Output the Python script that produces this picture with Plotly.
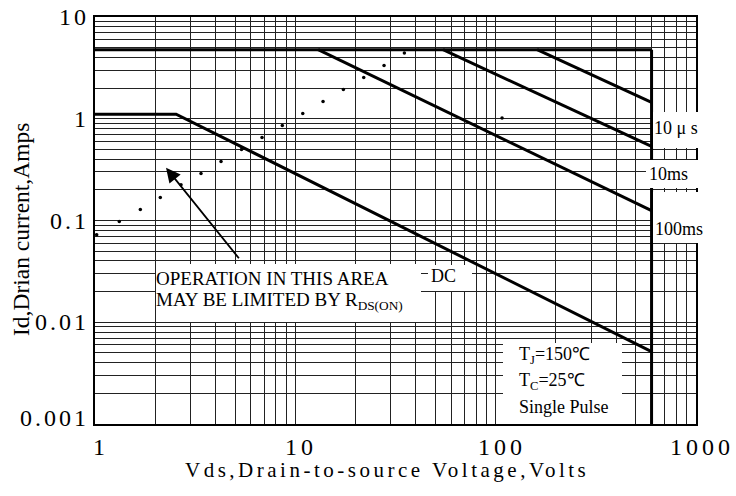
import math
import plotly.graph_objects as go

# ---------------- data ----------------
vds_max = 600.0          # V, drain-source voltage limit
id_max = 4.77            # A, pulsed current limit

dc_v = [1.0, 2.54, 600.0]
dc_i = [1.11, 1.11, 0.00515]

p100ms_v = [13.0, 600.0]
p100ms_i = [4.77, 0.125]

p10ms_v = [54.6, 600.0]
p10ms_i = [4.77, 0.534]

p10us_v = [161.0, 600.0]
p10us_i = [4.77, 1.45]

rds_v = [1.02, 1.322, 1.684, 2.118, 2.688, 3.382, 4.257, 5.388, 6.82, 8.61,
         10.89, 13.75, 17.37, 21.95, 27.72, 35.02, 107.6]
rds_i = [0.0724, 0.0977, 0.1283, 0.1683, 0.2244, 0.2899, 0.3803, 0.498, 0.6548,
         0.859, 1.127, 1.48, 1.942, 2.548, 3.343, 4.426, 1.016]

arrow_tail = (5.30, 0.0411)
arrow_head = (2.262, 0.33)

x_major = [1, 10, 100, 1000]
x_major_text = ["1", "10", "100", "1000"]
y_major = [0.001, 0.01, 0.1, 1, 10]
y_major_text = ["0.001", "0.01", "0.1", "1", "10"]

SERIF = "Liberation Serif, Times New Roman, serif"


def log_grid(lo_exp, hi_exp):
    vals = []
    for e in range(lo_exp, hi_exp):
        for m in range(1, 10):
            vals.append(m * 10 ** e)
    vals.append(10 ** hi_exp)
    return vals


xvals = log_grid(0, 3)
yvals = log_grid(-3, 1)

fig = go.Figure()
line_style = dict(color="black", width=3)

# limit lines
fig.add_trace(go.Scatter(x=[1, vds_max], y=[id_max, id_max], mode="lines", line=line_style))
fig.add_trace(go.Scatter(x=[vds_max, vds_max], y=[id_max, 0.001], mode="lines", line=line_style))
for xs, ys in [(dc_v, dc_i), (p100ms_v, p100ms_i), (p10ms_v, p10ms_i), (p10us_v, p10us_i)]:
    fig.add_trace(go.Scatter(x=xs, y=ys, mode="lines", line=line_style))
fig.add_trace(go.Scatter(x=rds_v, y=rds_i, mode="markers",
                         marker=dict(color="black", size=3.5)))


# paper coordinates from page pixels (plot area spans x 95..696, y 17..424)
def px(xp):
    return (xp - 95) / 601.0


def py(yp):
    return (424 - yp) / 407.0


def box(x0, x1, y0, y1):
    fig.add_shape(type="rect", xref="paper", yref="paper",
                  x0=px(x0), x1=px(x1), y0=py(y1), y1=py(y0),
                  fillcolor="white", line=dict(width=0), layer="above")


box(156, 421, 264, 322)
box(428, 472, 265, 291)
box(503, 622, 343, 424)
box(653, 700, 112, 148)
box(646, 700, 160, 188)
box(653, 705, 192, 243)


def label(text, x, y, anchor="center", size=18):
    fig.add_annotation(xref="paper", yref="paper", x=px(x), y=py(y), text=text,
                       showarrow=False, xanchor=anchor, yanchor="middle",
                       borderpad=0,
                       font=dict(family=SERIF, size=size, color="black"))


label("OPERATION IN THIS AREA", 155, 278, "left", 19)
label("MAY BE LIMITED BY R<sub>DS(ON)</sub>", 155, 301, "left", 19)
label("DC", 443, 276)
label("10 μ s", 676, 128)
label("10ms", 668, 174)
label("100ms", 679, 229)
label("T<sub>J</sub>=150℃", 518, 355, "left")
label("T<sub>C</sub>=25℃", 518, 381, "left")
label("Single Pulse", 518, 407, "left")

# arrow
fig.add_annotation(xref="x", yref="y", axref="x", ayref="y",
                   x=math.log10(arrow_head[0]), y=math.log10(arrow_head[1]),
                   ax=math.log10(arrow_tail[0]), ay=math.log10(arrow_tail[1]),
                   text="", showarrow=True, arrowhead=2, arrowsize=1.6,
                   arrowwidth=1.8, arrowcolor="black")

# tick labels (letter-spaced, placed on the axes' own scale)
tick_font = dict(family=SERIF, size=24, color="black")
for v, t in zip(x_major, x_major_text):
    fig.add_annotation(xref="x", yref="paper", x=math.log10(v), y=py(447),
                       text='<span style="letter-spacing:4px">%s</span>' % t,
                       showarrow=False, xanchor="center", yanchor="middle",
                       xshift=6, borderpad=0, font=tick_font)
for v, t in zip(y_major, y_major_text):
    fig.add_annotation(xref="paper", yref="y", x=px(90), y=math.log10(v),
                       text='<span style="letter-spacing:3px">%s</span>' % t,
                       showarrow=False, xanchor="right", yanchor="middle",
                       yshift=6 if v == y_major[0] else 0,
                       borderpad=0, font=tick_font)

# axis titles
fig.add_annotation(xref="paper", yref="paper", x=px(21), y=py(230),
                   text="Id,Drian current,Amps", textangle=-90, showarrow=False,
                   xanchor="center", yanchor="middle",
                   font=dict(family=SERIF, size=23.5, color="black"))
fig.add_annotation(xref="paper", yref="paper", x=px(387), y=py(470),
                   text='<span style="letter-spacing:3.5px">Vds,Drain-to-source Voltage,Volts</span>',
                   showarrow=False, xanchor="center", yanchor="middle",
                   font=dict(family=SERIF, size=21, color="black"))

axis_common = dict(type="log", showgrid=True, gridcolor="#222", gridwidth=1,
                   showline=True, linecolor="black", linewidth=1.5, mirror=True,
                   zeroline=False, ticks="", tickmode="array", automargin=False,
                   showticklabels=False)

fig.update_xaxes(range=[0, 3], tickvals=xvals, **axis_common)
fig.update_yaxes(range=[-3, 1], tickvals=yvals, **axis_common)

fig.update_layout(width=736, height=496, showlegend=False,
                  margin=dict(l=95, r=40, t=17, b=72),
                  plot_bgcolor="white", paper_bgcolor="white")

# remove the browser's default body margin so the figure fills the window
fig.write_html("out.html",
               config={"displayModeBar": False},
               post_script="document.body.style.margin='0';document.body.style.overflow='hidden';")
